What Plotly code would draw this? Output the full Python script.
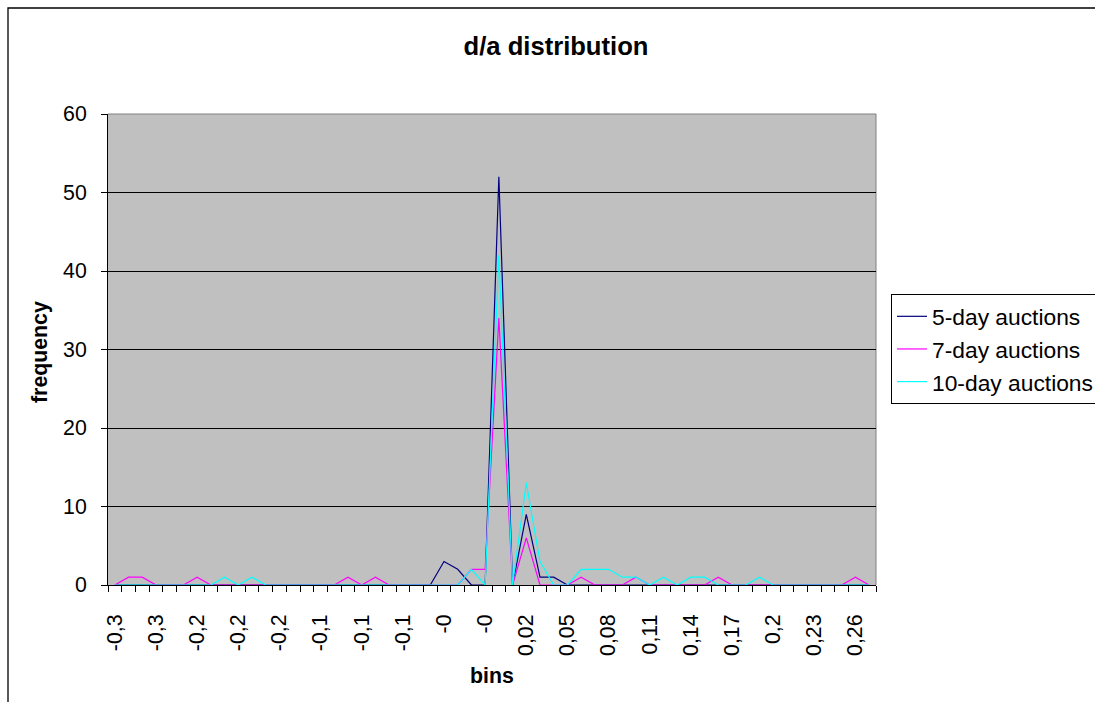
import plotly.graph_objects as go

# bin centres (d/a ratio)
bins = [-0.28, -0.27, -0.26, -0.25, -0.24, -0.23, -0.22, -0.21, -0.20, -0.19,
        -0.18, -0.17, -0.16, -0.15, -0.14, -0.13, -0.12, -0.11, -0.10, -0.09,
        -0.08, -0.07, -0.06, -0.05, -0.04, -0.03, -0.02, -0.01, 0.00, 0.01,
        0.02, 0.03, 0.04, 0.05, 0.06, 0.07, 0.08, 0.09, 0.10, 0.11,
        0.12, 0.13, 0.14, 0.15, 0.16, 0.17, 0.18, 0.19, 0.20, 0.21,
        0.22, 0.23, 0.24, 0.25, 0.26, 0.27]

# frequency per bin
five_day = [0, 0, 0, 0, 0, 0, 0, 0, 0, 0,
            0, 0, 0, 0, 0, 0, 0, 0, 0, 0,
            0, 0, 0, 0, 3, 2, 0, 0, 52, 0,
            9, 1, 1, 0, 0, 0, 0, 0, 0, 0,
            0, 0, 0, 0, 0, 0, 0, 0, 0, 0,
            0, 0, 0, 0, 0, 0]
seven_day = [0, 1, 1, 0, 0, 0, 1, 0, 0, 0,
             0, 0, 0, 0, 0, 0, 0, 1, 0, 1,
             0, 0, 0, 0, 0, 0, 2, 2, 34, 0,
             6, 0, 0, 0, 1, 0, 0, 0, 1, 0,
             0, 0, 0, 0, 1, 0, 0, 0, 0, 0,
             0, 0, 0, 0, 1, 0]
ten_day = [0, 0, 0, 0, 0, 0, 0, 0, 1, 0,
           1, 0, 0, 0, 0, 0, 0, 0, 0, 0,
           0, 0, 0, 0, 0, 0, 2, 0, 42, 0,
           13, 3, 0, 0, 2, 2, 2, 1, 1, 0,
           1, 0, 1, 1, 0, 0, 0, 1, 0, 0,
           0, 0, 0, 0, 0, 0]

# every third bin is labelled
tick_bins = bins[::3]
tick_labels = ["-0,3", "-0,3", "-0,2", "-0,2", "-0,2", "-0,1", "-0,1", "-0,1",
               "-0", "-0", "0,02", "0,05", "0,08", "0,11", "0,14", "0,17",
               "0,2", "0,23", "0,26"]

series = [
    ("5-day auctions", five_day, "#000080"),
    ("7-day auctions", seven_day, "#FF00FF"),
    ("10-day auctions", ten_day, "#00FFFF"),
]

FONT = "Liberation Sans, Arial, sans-serif"
W, H = 1095, 702
L, R, T, B = 108, 219, 114, 117
PW, PH = W - L - R, H - T - B

fig = go.Figure()
for i, (name, vals, color) in enumerate(series):
    fig.add_trace(go.Scatter(
        x=bins, y=vals, name=name, mode="lines",
        line=dict(color=color, width=1.2),
        legendgroup=str(i),
    ))

half = 0.005
boundaries = [b - half for b in bins] + [bins[-1] + half]

fig.update_layout(
    width=W, height=H,
    margin=dict(l=L, r=R, t=T, b=B, pad=0, autoexpand=False),
    paper_bgcolor="white",
    plot_bgcolor="#C0C0C0",
    font=dict(family=FONT, size=21.3, color="black"),
    title=dict(text="<b>d/a distribution</b>", font=dict(size=25.6, family=FONT, color="black"),
               x=556 / W, xanchor="center", xref="container",
               y=1 - 46 / H, yanchor="middle", yref="container"),
    showlegend=True,
    legend=dict(
        x=(891 - L) / PW, xanchor="left",
        y=(H - B - 294) / PH, yanchor="top",
        bordercolor="black", borderwidth=1, bgcolor="white",
        font=dict(size=22.8, family=FONT, color="black"),
        traceorder="grouped", tracegroupgap=0,
        entrywidth=230, entrywidthmode="pixels",
    ),
    xaxis=dict(
        range=[bins[0] - half, bins[-1] + half],
        tickmode="array", tickvals=tick_bins, ticktext=tick_labels,
        tickangle=-90,
        ticks="outside", ticklen=6, tickcolor="rgba(0,0,0,0)",
        ticklabelstandoff=14,
        minor=dict(tickmode="array", tickvals=boundaries, ticks="outside",
                   ticklen=6, tickcolor="black", tickwidth=1, showgrid=False),
        showgrid=False, zeroline=False,
        showline=True, linecolor="black", linewidth=1,
        layer="below traces",
    ),
    yaxis=dict(
        range=[0, 60], tickmode="array", tickvals=[0, 10, 20, 30, 40, 50, 60],
        ticks="outside", ticklen=6, tickcolor="black",
        ticklabelstandoff=10,
        showgrid=True, gridcolor="black", gridwidth=1,
        zeroline=False,
        showline=True, linecolor="black", linewidth=1,
        layer="below traces",
    ),
    shapes=[
        # plot area frame (top/right in grey)
        dict(type="line", xref="paper", yref="paper", x0=0, x1=1, y0=1, y1=1,
             line=dict(color="#808080", width=1), layer="between"),
        dict(type="line", xref="paper", yref="paper", x0=1, x1=1, y0=0, y1=1,
             line=dict(color="#808080", width=1), layer="between"),
        # chart area border
        dict(type="rect", xref="paper", yref="paper",
             x0=(8 - L) / PW, x1=(W + 20 - L) / PW,
             y0=(H - B - (H + 20)) / PH, y1=(H - B - 8) / PH,
             line=dict(color="black", width=1.3), fillcolor="rgba(0,0,0,0)",
             layer="below"),
    ],
    annotations=[
        dict(text="<b>frequency</b>", textangle=-90, showarrow=False,
             xref="paper", yref="paper",
             x=(40 - L) / PW, y=(H - B - 352) / PH,
             xanchor="center", yanchor="middle",
             font=dict(size=21.3, family=FONT, color="black")),
        dict(text="<b>bins</b>", showarrow=False,
             xref="paper", yref="paper",
             x=(492 - L) / PW, y=(H - B - 676) / PH,
             xanchor="center", yanchor="middle",
             font=dict(size=21.3, family=FONT, color="black")),
    ],
)

fig.write_html("out.html")
